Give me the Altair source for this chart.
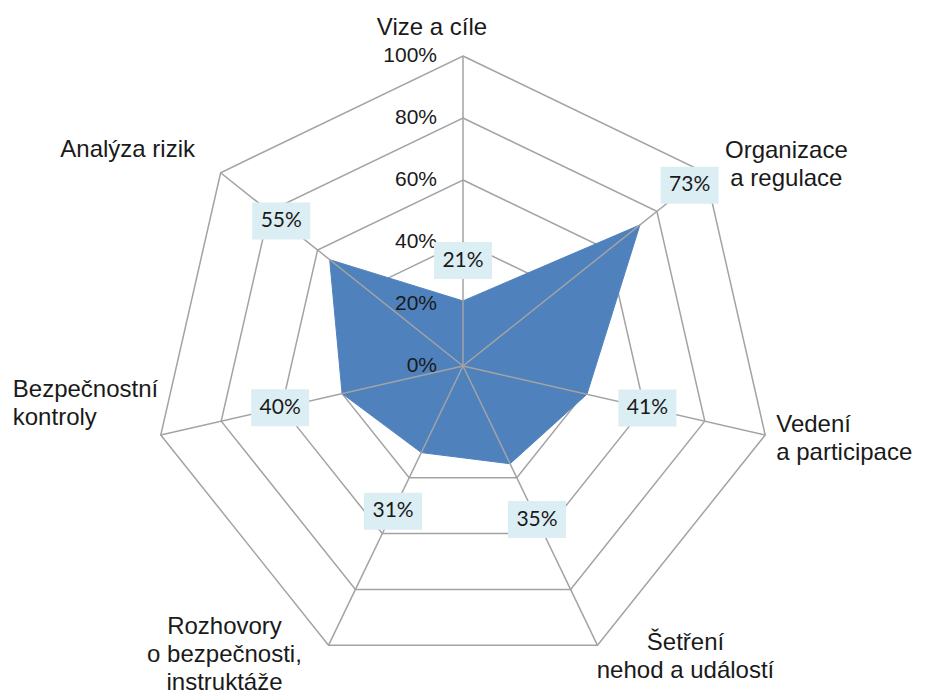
import math
import altair as alt
import pandas as pd

# ---- data ----
categories = [
    "Vize a cíle",
    "Organizace\na regulace",
    "Vedení\na participace",
    "Šetření\nnehod a událostí",
    "Rozhovory\no bezpečnosti,\ninstruktáže",
    "Bezpečnostní\nkontroly",
    "Analýza rizik",
]
values = [21, 73, 41, 35, 31, 40, 55]
ring_levels = [20, 40, 60, 80, 100]
tick_levels = [0, 20, 40, 60, 80, 100]
tick_labels = ["0%", "20%", "40%", "60%", "80%", "100%"]

# ---- styling ----
N = len(categories)
PX = 3.1  # pixels per percent unit
W, H = 930, 695
CX, CY = 463, 366
xs = alt.Scale(domain=[-CX / PX, (W - CX) / PX], nice=False, zero=False)
ys = alt.Scale(domain=[-(H - CY) / PX, CY / PX], nice=False, zero=False)
FILL = "#4F81BD"
GRID = "#A3A3A3"
BOX = "#DBEEF3"
TEXT = "#1A1A1A"
label_pad = [13, 20.5, 20, 20, 21, 20.5, 20]  # percent-units outward for value boxes
BOX_HW = 29 / PX
BOX_HH = 18.5 / PX
# per-category label style: dx, dy (pixels from outer vertex), align
cat_style = [
    (-31, -21, "center"),
    (81, -15, "center"),
    (11, -3, "left"),
    (88, 5, "center"),
    (-104, -11, "center"),
    (-148, -38, "left"),
    (-93, -16, "center"),
]

ANG = "PI/2 - datum.k*2*PI/7"


def X(f="x"):
    return alt.X(f + ":Q", scale=xs, axis=None)


def Y(f="y"):
    return alt.Y(f + ":Q", scale=ys, axis=None)


# rings
ring_df = pd.DataFrame([{"level": lv, "k": k} for lv in ring_levels for k in range(N)])
rings = (
    alt.Chart(ring_df)
    .mark_line(interpolate="linear-closed", stroke=GRID, strokeWidth=1.5)
    .transform_calculate(x=f"datum.level*cos({ANG})", y=f"datum.level*sin({ANG})")
    .encode(x=X(), y=Y(), detail="level:N", order="k:Q")
)

# area
val_df = pd.DataFrame({"k": list(range(N)), "value": values, "pad": label_pad})
area = (
    alt.Chart(val_df)
    .mark_line(interpolate="linear-closed", fill=FILL, stroke=FILL, strokeWidth=1)
    .transform_calculate(x=f"datum.value*cos({ANG})", y=f"datum.value*sin({ANG})")
    .encode(x=X(), y=Y(), order="k:Q")
)

# spokes
spoke_df = pd.DataFrame({"k": list(range(N))})
spokes = (
    alt.Chart(spoke_df)
    .mark_rule(stroke=GRID, strokeWidth=1.5)
    .transform_calculate(
        x0="0", y0="0", x=f"100*cos({ANG})", y=f"100*sin({ANG})"
    )
    .encode(x=X("x0"), y=Y("y0"), x2="x:Q", y2="y:Q")
)

# tick labels
tick_df = pd.DataFrame({"level": tick_levels, "label": tick_labels})
ticks = (
    alt.Chart(tick_df)
    .mark_text(align="right", baseline="middle", dx=-26, font="Liberation Sans",
               fontSize=21, color=TEXT)
    .transform_calculate(x="0")
    .encode(x=X(), y=Y("level"), text="label:N")
)

# value boxes
boxes = (
    alt.Chart(val_df)
    .mark_rect(fill=BOX)
    .transform_calculate(
        cx=f"(datum.value+datum.pad)*cos({ANG})",
        cy=f"(datum.value+datum.pad)*sin({ANG})",
    )
    .transform_calculate(
        x1=f"datum.cx-{BOX_HW}", x2=f"datum.cx+{BOX_HW}",
        y1=f"datum.cy-{BOX_HH}", y2=f"datum.cy+{BOX_HH}",
    )
    .encode(x=X("x1"), x2="x2:Q", y=Y("y1"), y2="y2:Q")
)
box_text = (
    alt.Chart(val_df)
    .mark_text(align="center", baseline="middle", font="Lato", fontSize=21, color=TEXT)
    .transform_calculate(
        cx=f"(datum.value+datum.pad)*cos({ANG})",
        cy=f"(datum.value+datum.pad)*sin({ANG})",
        lab="datum.value + '%'",
    )
    .encode(x=X("cx"), y=Y("cy"), text="lab:N")
)

# category labels
cat_layers = []
for k, (name, (dx, dy, al)) in enumerate(zip(categories, cat_style)):
    df = pd.DataFrame({"k": [k], "name": [name]})
    cat_layers.append(
        alt.Chart(df)
        .mark_text(align=al, baseline="alphabetic", dx=dx, dy=dy, lineBreak="\n",
                   lineHeight=28, font="Liberation Sans", fontSize=24, color=TEXT)
        .transform_calculate(x=f"100*cos({ANG})", y=f"100*sin({ANG})")
        .encode(x=X(), y=Y(), text="name:N")
    )

chart = (
    alt.layer(rings, area, spokes, ticks, boxes, box_text, *cat_layers)
    .properties(width=W, height=H, padding=0, autosize=alt.AutoSizeParams(type="none"))
    .configure_view(stroke=None)
)
chart.save("out.html", embed_options={"renderer": "svg", "actions": False})
